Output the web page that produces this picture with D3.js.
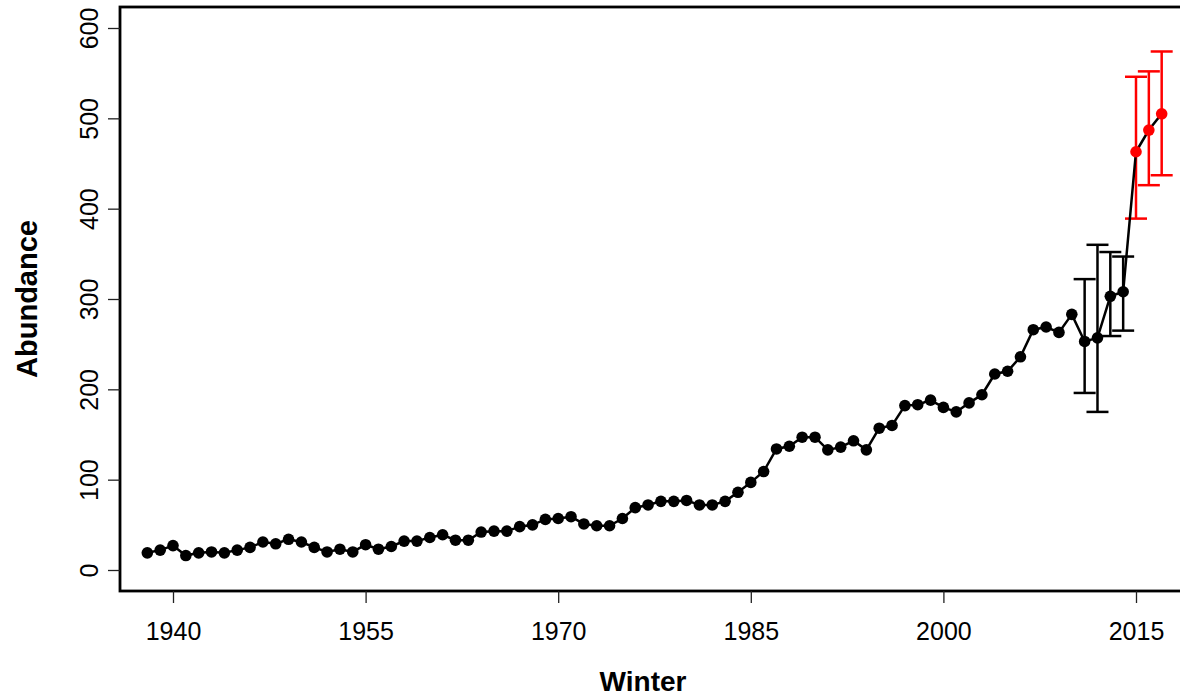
<!DOCTYPE html>
<html>
<head>
<meta charset="utf-8">
<script src="https://cdn.jsdelivr.net/npm/d3@7"></script>
<style>
  body { margin: 0; background: #fff; }
  text { font-family: "Liberation Sans", Arial, sans-serif; fill: #000; }
  .axisTitle { font-weight: bold; }
</style>
</head>
<body>
<div class="chart"></div>
<script>
var years = [1938, 1939, 1940, 1941, 1942, 1943, 1944, 1945, 1946, 1947,
  1948, 1949, 1950, 1951, 1952, 1953, 1954, 1955, 1956, 1957,
  1958, 1959, 1960, 1961, 1962, 1963, 1964, 1965, 1966, 1967,
  1968, 1969, 1970, 1971, 1972, 1973, 1974, 1975, 1976, 1977,
  1978, 1979, 1980, 1981, 1982, 1983, 1984, 1985, 1986, 1987,
  1988, 1989, 1990, 1991, 1992, 1993, 1994, 1995, 1996, 1997,
  1998, 1999, 2000, 2001, 2002, 2003, 2004, 2005, 2006, 2007,
  2008, 2009, 2010, 2011, 2012, 2013, 2014, 2015, 2016, 2017];

var abundance = [19, 22, 27, 16, 19, 20, 19, 22, 25, 31,
  29, 34, 31, 25, 20, 23, 20, 28, 23, 26,
  32, 32, 36, 39, 33, 33, 42, 43, 43, 48,
  50, 56, 57, 59, 51, 49, 49, 57, 69, 72,
  76, 76, 77, 72, 72, 76, 86, 97, 109, 134,
  137, 147, 147, 133, 136, 143, 133, 157, 160, 182,
  183, 188, 180, 175, 185, 194, 217, 220, 236, 266,
  269, 263, 283, 253, 257, 303, 308, 463, 487, 505];

// years with error bars
var errYears = [2011, 2012, 2013, 2014, 2015, 2016, 2017];
var errLow = [196, 175, 259, 265, 389, 426, 437];
var errHigh = [322, 360, 352, 347, 546, 552, 574];
// projected years drawn in red
var redYears = [2015, 2016, 2017];

var xTicks = [1940, 1955, 1970, 1985, 2000, 2015];
var yTicks = [0, 100, 200, 300, 400, 500, 600];

var svgWidth = 1180;
var svgHeight = 698;
var box = { left: 120, top: 7, right: 1190, bottom: 591 };

var svg = d3.select(".chart")
  .append("svg")
  .attr("width", svgWidth)
  .attr("height", svgHeight);

var x = d3.scaleLinear().domain([1940, 2015]).range([173, 1136]);
var y = d3.scaleLinear().domain([0, 600]).range([570, 28]);

var data = years.map(function(yr, i) { return { year: yr, value: abundance[i] }; });
var errData = errYears.map(function(yr, i) {
  return { year: yr, lo: errLow[i], hi: errHigh[i], red: redYears.indexOf(yr) >= 0 };
});

// plot box
svg.append("rect")
  .attr("x", box.left)
  .attr("y", box.top)
  .attr("width", box.right - box.left)
  .attr("height", box.bottom - box.top)
  .attr("fill", "none")
  .attr("stroke", "#000")
  .attr("stroke-width", 2.8);

// x axis
var xAxis = d3.axisBottom(x).tickValues(xTicks).tickFormat(d3.format("d"))
  .tickSize(12).tickPadding(19);
var gx = svg.append("g")
  .attr("transform", `translate(0, ${box.bottom})`)
  .call(xAxis);
gx.select(".domain").remove();
gx.selectAll("line").attr("stroke", "#222").attr("stroke-width", 1.3);
gx.selectAll("text").attr("font-size", 25).attr("font-family", "Liberation Sans, Arial, sans-serif");

// y axis, labels rotated like R's default
var yAxis = d3.axisLeft(y).tickValues(yTicks).tickSize(12).tickPadding(0);
var gy = svg.append("g")
  .attr("transform", `translate(${box.left}, 0)`)
  .call(yAxis);
gy.select(".domain").remove();
gy.selectAll("line").attr("stroke", "#222").attr("stroke-width", 1.3);
gy.selectAll("text")
  .attr("font-size", 25)
  .attr("font-family", "Liberation Sans, Arial, sans-serif")
  .attr("x", null)
  .attr("dy", null)
  .attr("text-anchor", "middle")
  .attr("transform", "translate(-22, 0) rotate(-90)");

// axis titles
svg.append("text")
  .attr("class", "axisTitle")
  .attr("x", 643)
  .attr("y", 691)
  .attr("text-anchor", "middle")
  .attr("font-size", 28)
  .text("Winter");

svg.append("text")
  .attr("class", "axisTitle")
  .attr("transform", "translate(37, 299) rotate(-90)")
  .attr("text-anchor", "middle")
  .attr("font-size", 29)
  .text("Abundance");

// error bars
var capHalf = 11;
var eg = svg.append("g").selectAll("g")
  .data(errData)
  .enter()
  .append("g")
  .attr("stroke", d => d.red ? "#ff0000" : "#000")
  .attr("stroke-width", 2.5);
eg.append("line")
  .attr("x1", d => x(d.year)).attr("x2", d => x(d.year))
  .attr("y1", d => y(d.lo)).attr("y2", d => y(d.hi));
eg.append("line")
  .attr("x1", d => x(d.year) - capHalf).attr("x2", d => x(d.year) + capHalf)
  .attr("y1", d => y(d.lo)).attr("y2", d => y(d.lo));
eg.append("line")
  .attr("x1", d => x(d.year) - capHalf).attr("x2", d => x(d.year) + capHalf)
  .attr("y1", d => y(d.hi)).attr("y2", d => y(d.hi));

// series line
var line = d3.line().x(d => x(d.year)).y(d => y(d.value));
svg.append("path")
  .datum(data)
  .attr("d", line)
  .attr("fill", "none")
  .attr("stroke", "#000")
  .attr("stroke-width", 2.5);

// points
svg.append("g").selectAll("circle")
  .data(data)
  .enter()
  .append("circle")
  .attr("cx", d => x(d.year))
  .attr("cy", d => y(d.value))
  .attr("r", 5.8)
  .attr("fill", d => redYears.indexOf(d.year) >= 0 ? "#ff0000" : "#000");
</script>
</body>
</html>
